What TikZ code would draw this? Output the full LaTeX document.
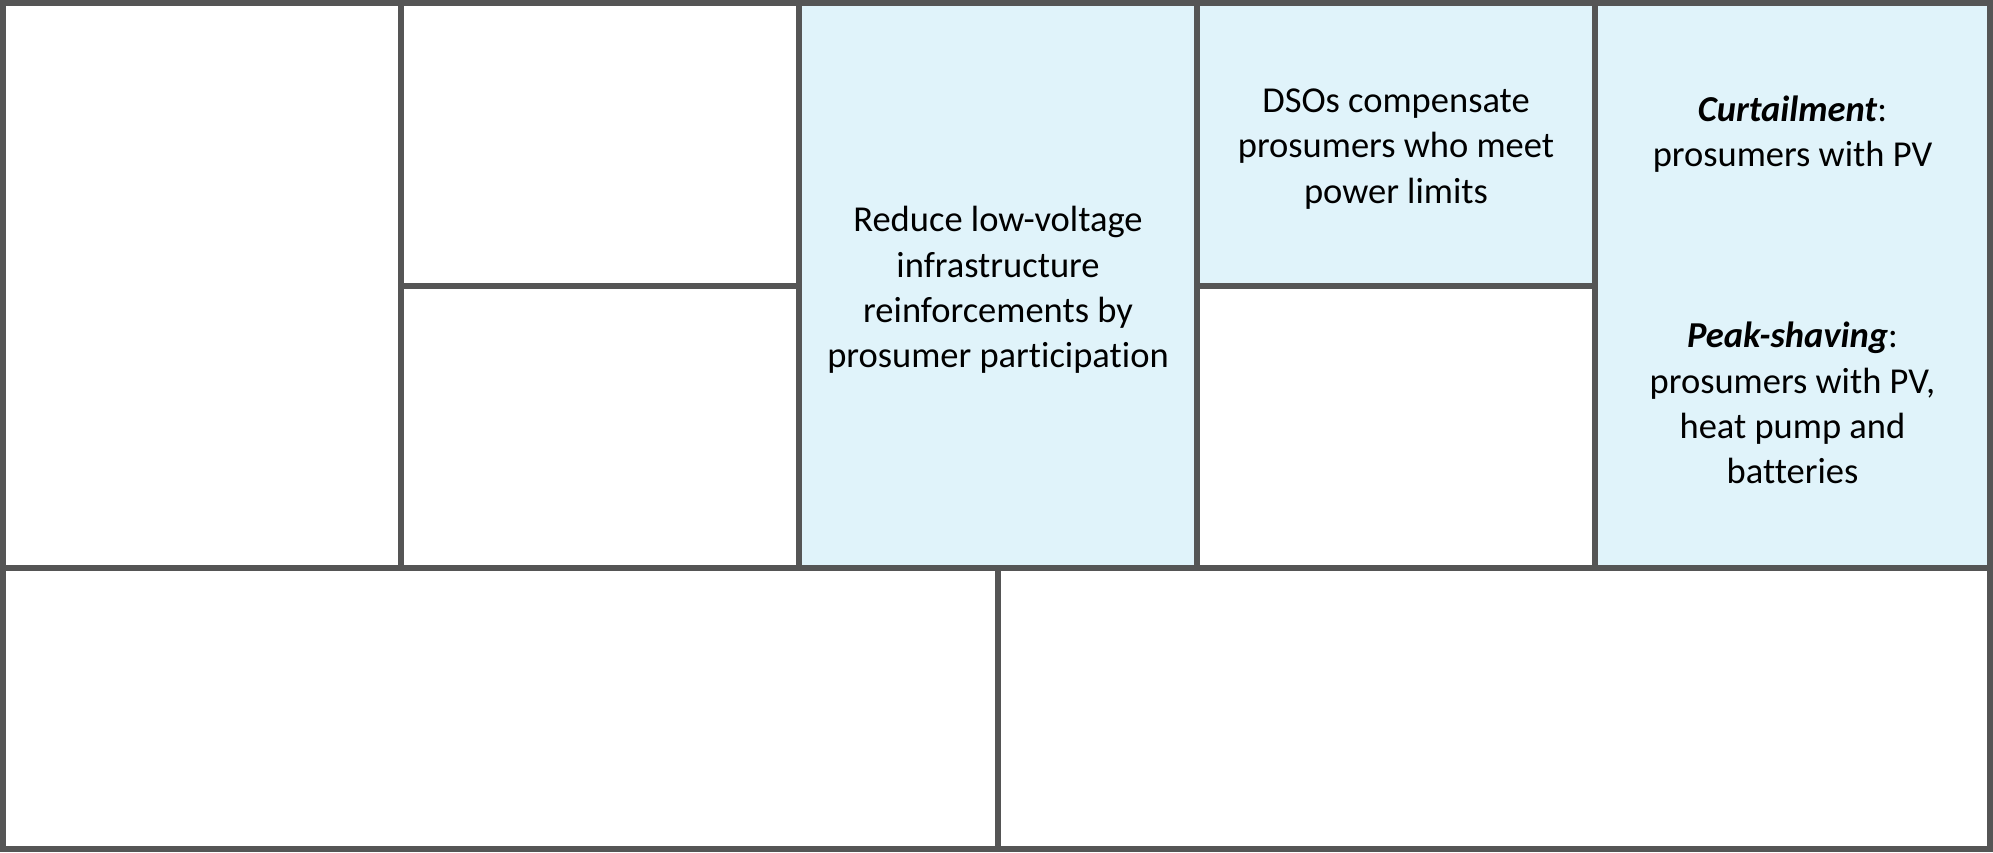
\documentclass[tikz,border=0pt]{standalone}
\usepackage{fontspec}
\setmainfont[Ligatures={NoCommon}]{Carlito}
\definecolor{cellblue}{HTML}{E0F3FA}
\definecolor{gridgray}{HTML}{555555}
\begin{document}
\begin{tikzpicture}[x=0.5pt,y=-0.5pt,
  grid/.style={draw=gridgray,line width=3pt},
  txt/.style={align=center,inner sep=0pt,font=\fontsize{18.25}{22.6}\selectfont}]
\useasboundingbox (0,0) rectangle (1993,852);
% blue cells
\fill[cellblue] (799,3) rectangle (1197,568);
\fill[cellblue] (1197,3) rectangle (1595,285.5);
\fill[cellblue] (1595,3) rectangle (1990,568);
% coordinates
\coordinate (tl) at (3,3);
\coordinate (br) at (1990,849);
\coordinate (v1t) at (401,3);   \coordinate (v1b) at (401,568);
\coordinate (v2t) at (799,3);   \coordinate (v2b) at (799,568);
\coordinate (v3t) at (1197,3);  \coordinate (v3b) at (1197,568);
\coordinate (v4t) at (1595,3);  \coordinate (v4b) at (1595,568);
\coordinate (hl) at (3,568);    \coordinate (hr) at (1990,568);
\coordinate (h1l) at (401,285.5);  \coordinate (h1r) at (799,285.5);
\coordinate (h2l) at (1197,285.5); \coordinate (h2r) at (1595,285.5);
\coordinate (vbt) at (998,568); \coordinate (vbb) at (998,849);
% grid
\draw[grid] (tl) rectangle (br);
\draw[grid] (v1t) -- (v1b);
\draw[grid] (v2t) -- (v2b);
\draw[grid] (v3t) -- (v3b);
\draw[grid] (v4t) -- (v4b);
\draw[grid] (hl) -- (hr);
\draw[grid] (h1l) -- (h1r);
\draw[grid] (h2l) -- (h2r);
\draw[grid] (vbt) -- (vbb);
% texts
\node[txt] (vp) at (998,290) {Reduce low-voltage\\infrastructure\\reinforcements by\\prosumer participation};
\node[txt] (cr) at (1396,149) {DSOs compensate\\prosumers who meet\\power limits};
\node[txt] (cs1) at (1792.5,134) {\textbf{\textit{Curtailment}}:\\prosumers with PV};
\node[txt] (cs2) at (1792.5,403) {\textbf{\textit{Peak-shaving}}:\\prosumers with PV,\\heat pump and\\batteries};
\end{tikzpicture}
\end{document}
